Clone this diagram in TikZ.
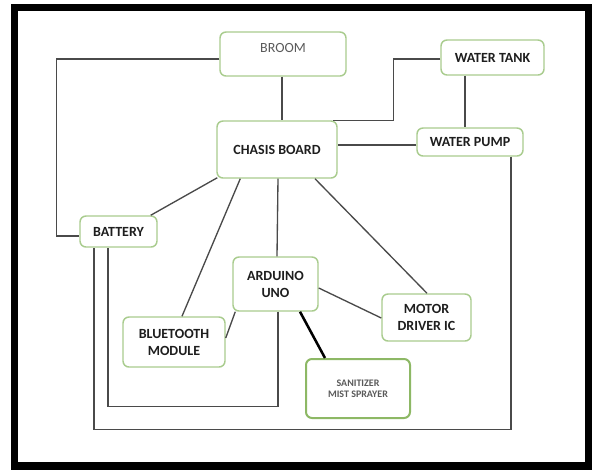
\documentclass[tikz,border=0pt]{standalone}
\usepackage{fontspec}
\setmainfont{Carlito}
\usetikzlibrary{calc}
\definecolor{boxgreen}{HTML}{A9CC8E}
\definecolor{boxgreendark}{HTML}{8DB865}
\definecolor{conngray}{HTML}{4A4A4A}
\definecolor{txtdark}{HTML}{1E1E1E}
\definecolor{txtgray}{HTML}{5A5A5A}
\begin{document}
\begin{tikzpicture}[x=0.75pt,y=-0.75pt,
  box/.style={draw=boxgreen, line width=1.1pt, rounded corners=4.5pt, fill=white,
    inner sep=0pt, align=center, text=txtdark,
    font=\fontsize{10.5}{12.75}\selectfont\bfseries},
  conn/.style={draw=conngray, line width=1pt},
  thickconn/.style={draw=black, line width=1.9pt}]
\useasboundingbox (0,0) rectangle (600,472);
\fill[white] (0,0) rectangle (600,472);
\draw[black, line width=5.5pt] (14.5,7.5) rectangle (588.5,466);

% nodes
\node[box, minimum width=126*0.75pt, minimum height=44*0.75pt,
  text=txtgray, font=\fontsize{10.5}{12.75}\selectfont,
  text height=6.75pt, text depth=9pt] (broom) at (283,54) {BROOM};
\node[box, minimum width=103*0.75pt, minimum height=35*0.75pt] (tank) at (492.5,57.5) {WATER TANK};
\node[box, minimum width=120*0.75pt, minimum height=57*0.75pt] (chasis) at (277,149.5) {CHASIS BOARD};
\node[box, minimum width=106*0.75pt, minimum height=28*0.75pt] (pump) at (470,142) {WATER PUMP};
\node[box, minimum width=77*0.75pt, minimum height=31*0.75pt] (battery) at (118.5,231.5) {BATTERY};
\node[box, minimum width=85*0.75pt, minimum height=54*0.75pt] (arduino) at (275.5,284) {ARDUINO\\UNO};
\node[box, minimum width=102*0.75pt, minimum height=50*0.75pt] (bluetooth) at (174,342) {BLUETOOTH\\MODULE};
\node[box, minimum width=89*0.75pt, minimum height=47*0.75pt] (motor) at (426.5,317.5) {MOTOR\\DRIVER IC};
\node[box, draw=boxgreendark, line width=1.5pt, minimum width=104*0.75pt, minimum height=59*0.75pt,
  font=\fontsize{7.5}{8.5}\selectfont\bfseries, text=txtgray] (sanitizer) at (358,388.5) {SANITIZER\\MIST SPRAYER};

% anchor points for straight connectors
\coordinate (broomS) at ($(broom.south)+(-1,0)$);
\coordinate (tankS) at ($(tank.south)+(-27.5,0)$);
\coordinate (pumpW) at ($(pump.west)+(0,3)$);

% connectors
\draw[conn] ($(broom.west)+(0,5)$) -| ($(battery.west)+(-23,4.5)$) -- ($(battery.west)+(0,4.5)$);
\draw[conn] (broomS) -- (broomS |- chasis.north);
\draw[conn] ($(tank.west)+(0,1.5)$) -| ($(chasis.north east)+(56,0)$) -- ($(chasis.north east)+(-5,0)$);
\draw[conn] (tankS) -- (tankS |- pump.north);
\draw[conn] (pumpW) -- (pumpW -| chasis.east);
\draw[conn] ($(pump.south)+(41,0)$) -- ++(0,273) -| ($(battery.south)+(-24.5,0)$);
\draw[conn] ($(arduino.south)+(2.5,0)$) -- ++(0,95) -| ($(battery.south)+(-10.5,0)$);
\draw[conn] ($(chasis.south west)+(1,-1)$) -- ($(battery.north east)+(-7,0)$);
\draw[conn] ($(chasis.south west)+(24,0)$) -- ($(bluetooth.north)+(8,0)$);
\draw[conn] ($(chasis.south)+(1,0)$) -- ($(arduino.north)+(1.5,0)$);
\draw[conn] ($(chasis.south)+(38,0)$) -- ($(motor.north)+(0.5,0)$);
\draw[conn] ($(arduino.east)+(0,4)$) -- ($(motor.west)+(0,0.5)$);
\draw[conn] ($(arduino.south west)+(3,0)$) -- ($(bluetooth.east)+(0,-4)$);
\draw[thickconn] ($(arduino.south)+(24.5,0)$) -- ($(sanitizer.north)+(-33,0)$);
\end{tikzpicture}
\end{document}
